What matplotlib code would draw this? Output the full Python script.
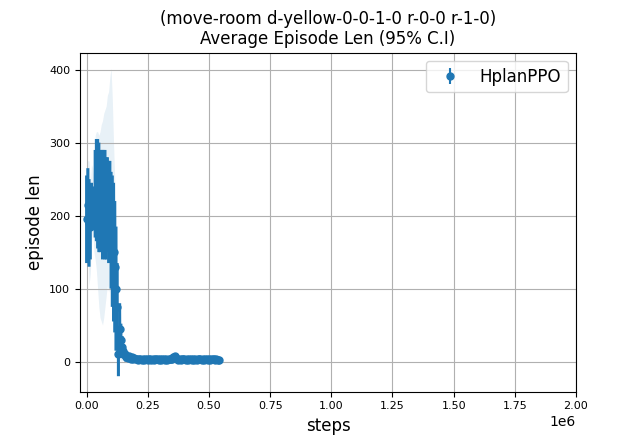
import numpy as np
import matplotlib
matplotlib.use("Agg")
import matplotlib.pyplot as plt

step_interval = 5000
episode_len = [
    195, 215, 190, 185, 215, 225, 200, 230, 235, 230,
    225, 220, 225, 215, 220, 215, 210, 215, 205, 210,
    180, 165, 150, 130, 100, 75, 10, 45, 30, 20,
    14, 10, 6, 8, 5, 7, 4, 6, 3, 5,
    4, 3, 2, 4, 3, 2, 3, 2, 4, 3,
    2, 3, 4, 2, 3, 2, 3, 4, 3, 2,
    3, 2, 4, 3, 2, 3, 2, 3, 4, 3,
    4, 6, 7, 5, 3, 2, 3, 2, 3, 4,
    3, 2, 3, 2, 4, 3, 2, 3, 2, 3,
    2, 3, 4, 3, 2, 3, 2, 3, 4, 2,
    3, 2, 3, 4, 3, 2, 3, 2, 2,
]
err = [
    60, 50, 60, 45, 30, 15, 20, 60, 70, 75,
    75, 70, 65, 75, 70, 75, 70, 65, 70, 65,
    80, 90, 95, 90, 85, 60, 30, 35, 22, 15,
    10, 8, 6, 5, 4, 4, 3, 3, 3, 3,
    2, 2, 2, 2, 2, 2, 2, 2, 2, 2,
    2, 2, 2, 2, 2, 2, 2, 2, 2, 2,
    2, 2, 2, 2, 2, 2, 2, 2, 2, 2,
    2, 3, 3, 2, 2, 2, 2, 2, 2, 2,
    2, 2, 2, 2, 2, 2, 2, 2, 2, 2,
    2, 2, 2, 2, 2, 2, 2, 2, 2, 2,
    2, 2, 2, 2, 2, 2, 2, 2, 2,
]
band_up = [
    85, 60, 85, 60, 55, 40, 50, 80, 80, 85,
    85, 95, 100, 115, 120, 130, 140, 150, 165, 180,
    222, 195, 150, 120, 100, 80, 30, 40, 30, 20,
    14, 10, 8, 8, 6, 6, 5, 5, 4, 4,
    3, 3, 3, 3, 3, 3, 3, 3, 3, 3,
    3, 3, 3, 3, 3, 3, 3, 3, 3, 3,
    3, 3, 3, 3, 3, 3, 3, 3, 3, 3,
    3, 4, 5, 4, 3, 3, 3, 3, 3, 3,
    3, 3, 3, 3, 3, 3, 3, 3, 3, 3,
    3, 3, 3, 3, 3, 3, 3, 3, 3, 3,
    3, 3, 3, 3, 3, 3, 3, 3, 3,
]
band_down = [
    95, 65, 85, 65, 55, 40, 50, 90, 110, 130,
    150, 160, 170, 165, 160, 140, 120, 110, 110, 105,
    95, 100, 95, 90, 85, 65, 30, 40, 28, 18,
    12, 9, 6, 7, 4, 6, 3, 5, 2, 4,
    3, 2, 2, 3, 2, 2, 2, 2, 3, 2,
    2, 2, 3, 2, 2, 2, 2, 3, 2, 2,
    2, 2, 3, 2, 2, 2, 2, 2, 3, 2,
    3, 4, 5, 4, 2, 2, 2, 2, 2, 3,
    2, 2, 2, 2, 3, 2, 2, 2, 2, 2,
    2, 2, 3, 2, 2, 2, 2, 2, 3, 2,
    2, 2, 2, 3, 2, 2, 2, 2, 2,
]
label = "HplanPPO"
title = "(move-room d-yellow-0-0-1-0 r-0-0 r-1-0)\nAverage Episode Len (95% C.I)"

y = np.array(episode_len, dtype=float)
e = np.array(err, dtype=float)
bu = np.array(band_up, dtype=float)
bd = np.array(band_down, dtype=float)
x = np.arange(len(y)) * step_interval

fig, ax = plt.subplots(figsize=(6.4, 4.4), dpi=100)
ax.fill_between(x, y - bd, y + bu, color="C0", alpha=0.1, linewidth=0)
eb = ax.errorbar(x, y, yerr=e, fmt="o", color="C0", markersize=5, elinewidth=2.2)
for coll in eb[2]:
    coll.set_snap(False)
ax.errorbar([], [], yerr=[], fmt="o", color="C0", markersize=5, label=label)
ax.set_xlim(right=2e6)
ax.set_title(title, fontsize=12)
ax.set_xlabel("steps", fontsize=12)
ax.set_ylabel("episode len", fontsize=12)
ax.tick_params(labelsize=8)
ax.grid(True)
ax.legend(loc="upper right", fontsize=12)
fig.savefig("out.png", dpi=100)
